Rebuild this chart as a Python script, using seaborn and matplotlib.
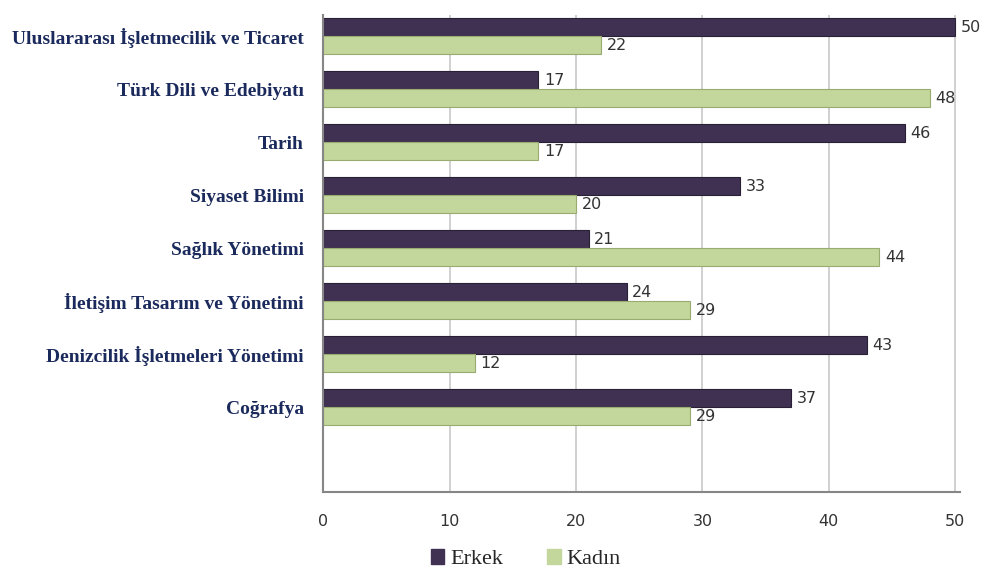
import pandas as pd
import matplotlib.pyplot as plt
import seaborn as sns
from matplotlib.ticker import FixedLocator

# veriler
bolumler = ['Uluslararası İşletmecilik ve Ticaret', 'Türk Dili ve Edebiyatı', 'Tarih',
            'Siyaset Bilimi', 'Sağlık Yönetimi', 'İletişim Tasarım ve Yönetimi',
            'Denizcilik İşletmeleri Yönetimi', 'Coğrafya']
erkek = [50, 17, 46, 33, 21, 24, 43, 37]
kadin = [22, 48, 17, 20, 44, 29, 12, 29]
x_ticks = [0, 10, 20, 30, 40, 50]

df = pd.DataFrame({
    'Bölüm': bolumler * 2,
    'Sayı': erkek + kadin,
    'Cinsiyet': ['Erkek'] * len(erkek) + ['Kadın'] * len(kadin),
})

sns.set_style('white')
renkler = {'Erkek': '#403152', 'Kadın': '#C3D69B'}
kenar = {'Erkek': '#2A2036', 'Kadın': '#98AC70'}

fig = plt.figure(figsize=(9.92, 5.75), dpi=100)
ax = fig.add_axes([0.326, 0.144, 0.642, 0.830])

sns.barplot(data=df, y='Bölüm', x='Sayı', hue='Cinsiyet', order=bolumler,
            palette=renkler, orient='h', width=0.68, saturation=1,
            ax=ax, legend=False)

for cont, key in zip(ax.containers, ['Erkek', 'Kadın']):
    for p in cont:
        p.set_edgecolor(kenar[key])
        p.set_linewidth(0.8)
    ax.bar_label(cont, padding=4, fontsize=11.5, color='#333333',
                 family='DejaVu Sans')

# bir bos kategori alani kalsin, hafif yukari kaydir
kay = 0.1
ax.set_ylim(len(bolumler) + 0.5 + kay, -0.5 + kay)
ax.set_xlim(0, 50.4)
ax.set_xticks(x_ticks)
ax.set_xlabel('')
ax.set_ylabel('')

ax.yaxis.set_minor_locator(FixedLocator([i - 0.5 + kay for i in range(len(bolumler) + 2)]))
ax.tick_params(axis='y', which='major', length=0, pad=14)
ax.tick_params(axis='y', which='minor', length=6, color='#868686', width=1)
ax.tick_params(axis='x', length=4, color='#868686', labelsize=11.5,
               labelcolor='#333333', pad=12)
for lab in ax.get_yticklabels():
    lab.set_fontfamily('Liberation Serif')
    lab.set_fontweight('bold')
    lab.set_fontsize(14)
    lab.set_color('#1B2A5C')

ax.xaxis.grid(True, color='#C8C8C8', linewidth=1.2)
ax.set_axisbelow(True)
for s in ['top', 'right']:
    ax.spines[s].set_visible(False)
for s in ['left', 'bottom']:
    ax.spines[s].set_color('#868686')
    ax.spines[s].set_linewidth(1.5)

handles = [plt.Rectangle((0, 0), 1, 1, color=renkler[k]) for k in ['Erkek', 'Kadın']]
fig.legend(handles, ['Erkek', 'Kadın'], loc='lower center', ncol=2,
           frameon=False, bbox_to_anchor=(0.53, -0.025),
           prop={'family': 'Liberation Serif', 'size': 16},
           handlelength=0.6, handleheight=0.6, handletextpad=0.25,
           columnspacing=2.0)

plt.savefig('out.png', dpi=100)
